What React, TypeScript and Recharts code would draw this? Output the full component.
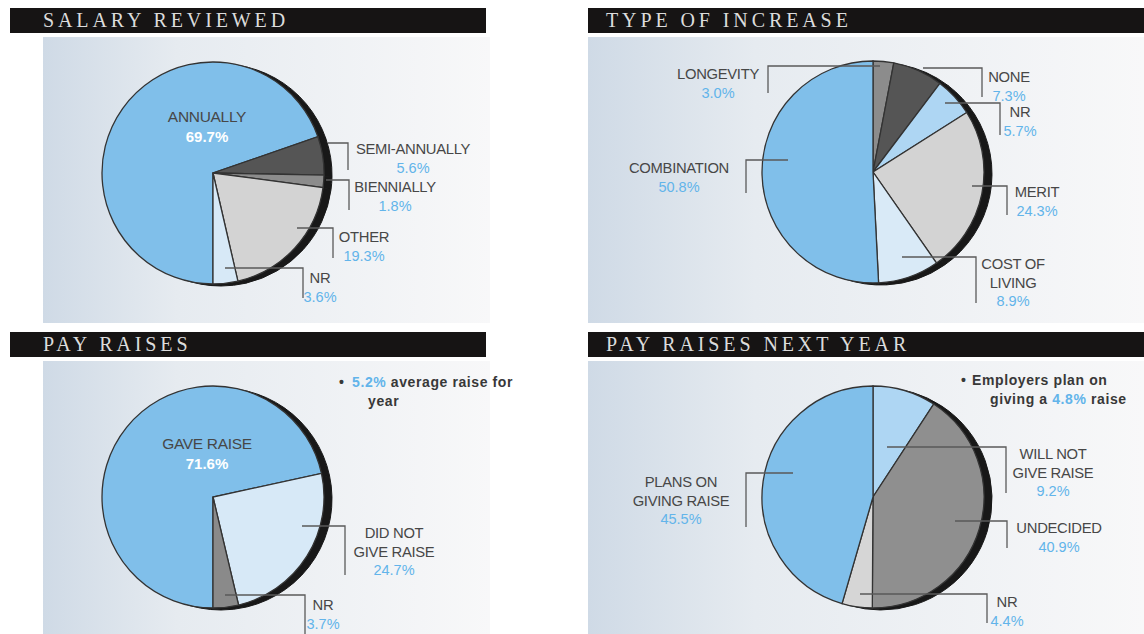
import { PieChart, Pie, Cell } from "recharts";

// ---- data ----
const salaryNames = ["ANNUALLY", "SEMI-ANNUALLY", "BIENNIALLY", "OTHER", "NR"];
const salaryValues = [69.7, 5.6, 1.8, 19.3, 3.6];
const salaryColors = ["#80bfea", "#555555", "#8c8c8c", "#d3d3d3", "#d7e9f7"];

const increaseNames = ["LONGEVITY", "NONE", "NR", "MERIT", "COST OF LIVING", "COMBINATION"];
const increaseValues = [3.0, 7.3, 5.7, 24.3, 8.9, 50.8];
const increaseColors = ["#8c8c8c", "#555555", "#aed6f3", "#d3d3d3", "#d9eaf7", "#80bfea"];

const raiseNames = ["GAVE RAISE", "DID NOT GIVE RAISE", "NR"];
const raiseValues = [71.6, 24.7, 3.7];
const raiseColors = ["#80bfea", "#d7e9f7", "#8a8a8a"];

const nextNames = ["WILL NOT GIVE RAISE", "UNDECIDED", "NR", "PLANS ON GIVING RAISE"];
const nextValues = [9.2, 40.9, 4.4, 45.5];
const nextColors = ["#aed6f3", "#8f8f8f", "#d6d6d6", "#80bfea"];

const toRows = (names: string[], values: number[]) =>
  names.map((name, i) => ({ name, value: values[i] }));

const BLUE_TXT = "#62b4ea";
const DARK_TXT = "#474747";
const FONT = "'Liberation Sans', Arial, sans-serif";

// layout of the four panels
const panels = [
  { title: "SALARY REVIEWED", x: 10, y: 8, w: 476, bgX: 43, bgW: 447, rows: toRows(salaryNames, salaryValues), colors: salaryColors, cx: 213, cy: 173, start: -90, end: -450 },
  { title: "TYPE OF INCREASE", x: 588, y: 8, w: 556, bgX: 588, bgW: 556, rows: toRows(increaseNames, increaseValues), colors: increaseColors, cx: 873, cy: 172, start: 90, end: -270 },
  { title: "PAY RAISES", x: 10, y: 332, w: 476, bgX: 43, bgW: 447, rows: toRows(raiseNames, raiseValues), colors: raiseColors, cx: 213, cy: 497, start: -90, end: -450 },
  { title: "PAY RAISES NEXT YEAR", x: 588, y: 332, w: 556, bgX: 588, bgW: 556, rows: toRows(nextNames, nextValues), colors: nextColors, cx: 873, cy: 497, start: 90, end: -270 },
];
const R = 111;

// callout layout: panel index, slice index, text centre, lines, bracket path
const callouts = [
  { p: 0, i: 0, x: 207, y: 116, lines: ["ANNUALLY"], inside: true },
  { p: 0, i: 1, x: 413, y: 149, lines: ["SEMI-ANNUALLY"], path: "M328 143H348V170" },
  { p: 0, i: 2, x: 395, y: 187, lines: ["BIENNIALLY"], path: "M326 180H349V210" },
  { p: 0, i: 3, x: 364, y: 237, lines: ["OTHER"], path: "M297 228H333V258" },
  { p: 0, i: 4, x: 320, y: 278, lines: ["NR"], path: "M225 268H303V298" },

  { p: 1, i: 0, x: 718, y: 74, lines: ["LONGEVITY"], path: "M880 66H768V93" },
  { p: 1, i: 1, x: 1009, y: 77, lines: ["NONE"], path: "M923 68H982V97" },
  { p: 1, i: 2, x: 1020, y: 112, lines: ["NR"], path: "M945 103H1000V135" },
  { p: 1, i: 3, x: 1037, y: 192, lines: ["MERIT"], path: "M972 186H1007V215" },
  { p: 1, i: 4, x: 1013, y: 264, lines: ["COST OF", "LIVING"], path: "M902 257H976V303" },
  { p: 1, i: 5, x: 679, y: 168, lines: ["COMBINATION"], path: "M788 160H746V193" },

  { p: 2, i: 0, x: 207, y: 443, lines: ["GAVE RAISE"], inside: true },
  { p: 2, i: 1, x: 394, y: 533, lines: ["DID NOT", "GIVE RAISE"], path: "M302 526H345V575" },
  { p: 2, i: 2, x: 323, y: 605, lines: ["NR"], path: "M225 595H305V634" },

  { p: 3, i: 0, x: 1053, y: 454, lines: ["WILL NOT", "GIVE RAISE"], path: "M887 447H1006V493" },
  { p: 3, i: 1, x: 1059, y: 528, lines: ["UNDECIDED"], path: "M955 521H1007V548" },
  { p: 3, i: 2, x: 1007, y: 602, lines: ["NR"], path: "M860 594H987V623" },
  { p: 3, i: 3, x: 681, y: 482, lines: ["PLANS ON", "GIVING RAISE"], path: "M793 473H746V527" },
];

export default function App() {
  return (
    <div style={{ position: "absolute", left: 0, top: 0, width: 1144, height: 634, background: "#fff", overflow: "hidden" }}>
      {/* panel backgrounds and title bars */}
      <svg width={1144} height={634} style={{ position: "absolute", left: 0, top: 0 }}>
        <defs>
          <linearGradient id="panelBg" x1="0" x2="1" y1="0" y2="0">
            <stop offset="0" stopColor="#cfdae6" />
            <stop offset="0.3" stopColor="#e6ebf0" />
            <stop offset="1" stopColor="#f8f8f9" />
          </linearGradient>
        </defs>
        {panels.map((p, k) => (
          <g key={k}>
            <rect x={p.bgX} y={p.y + 29} width={p.bgW} height={k < 2 ? 286 : 273} fill="url(#panelBg)" />
            <rect x={p.x} y={p.y} width={p.w} height={25} fill="#161414" />
            <text
              x={p.x === 10 ? 43 : 606}
              y={p.y + 19}
              fill="#dcdcdc"
              fontFamily="'Liberation Serif', 'DejaVu Serif', serif"
              fontSize={20}
              letterSpacing={3.9}
            >
              {p.title}
            </text>
          </g>
        ))}
      </svg>

      <div style={{ position: "absolute", left: 0, top: 0 }}>
        <PieChart width={1144} height={634} margin={{ top: 0, right: 0, bottom: 0, left: 0 }}>
          {panels.map((p, k) => (
            <Pie
              key={"rim" + k}
              data={p.rows}
              dataKey="value"
              nameKey="name"
              cx={p.cx + 8}
              cy={p.cy + 2}
              outerRadius={R}
              startAngle={p.start}
              endAngle={p.end}
              fill="#181818"
              stroke="#181818"
              isAnimationActive={false}
              label={false}
              labelLine={false}
            />
          ))}
          {panels.map((p, k) => (
            <Pie
              key={"pie" + k}
              data={p.rows}
              dataKey="value"
              nameKey="name"
              cx={p.cx}
              cy={p.cy}
              outerRadius={R}
              startAngle={p.start}
              endAngle={p.end}
              stroke="#333333"
              strokeWidth={1.3}
              isAnimationActive={false}
              label={false}
              labelLine={false}
            >
              {p.rows.map((_, i) => (
                <Cell key={i} fill={p.colors[i]} />
              ))}
            </Pie>
          ))}
        </PieChart>
      </div>

      {/* callouts */}
      <svg width={1144} height={634} style={{ position: "absolute", left: 0, top: 0, pointerEvents: "none" }}>
        {callouts.map((c, k) => {
          const pct = panels[c.p].rows[c.i].value.toFixed(1) + "%";
          return (
            <g key={k} fontFamily={FONT} textAnchor="middle" dominantBaseline="central">
              {c.path && <path d={c.path} fill="none" stroke="#5a5a5a" strokeWidth={1.3} />}
              {c.lines.map((ln, j) => (
                <text key={j} x={c.x} y={c.y + j * 18.5} fill={DARK_TXT} fontSize={c.inside ? 15.5 : 14.8} letterSpacing={-0.3}>
                  {ln}
                </text>
              ))}
              <text
                x={c.x}
                y={c.y + c.lines.length * 18.5 + (c.inside ? 2 : 0)}
                fill={c.inside ? "#ffffff" : BLUE_TXT}
                fontSize={c.inside ? 15 : 14.5}
                fontWeight={c.inside ? "bold" : "normal"}
              >
                {pct}
              </text>
            </g>
          );
        })}

        <g fontFamily={FONT} fontSize={14} fontWeight="bold" fill="#383838" letterSpacing={0.6}>
          <text x={339} y={387}>•</text>
          <text x={352} y={387}>
            <tspan fill={BLUE_TXT}>5.2%</tspan> average raise for
          </text>
          <text x={368} y={406}>year</text>

          <text x={961} y={385}>•</text>
          <text x={972} y={385}>Employers plan on</text>
          <text x={990} y={404}>
            giving a <tspan fill={BLUE_TXT}>4.8%</tspan> raise
          </text>
        </g>
      </svg>
    </div>
  );
}
